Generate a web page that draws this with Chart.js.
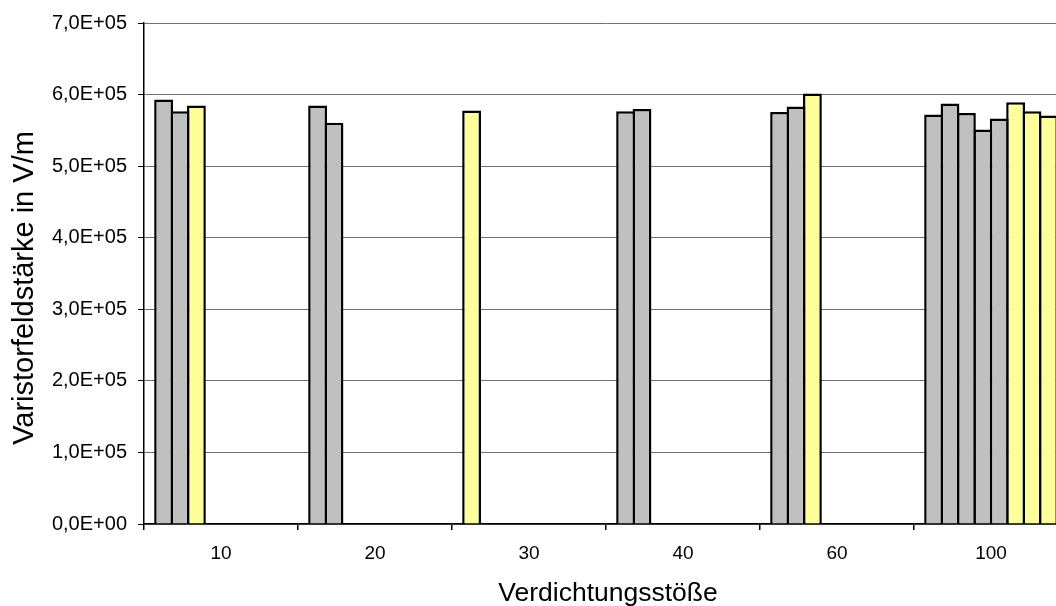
<!DOCTYPE html>
<html>
<head>
<meta charset="utf-8">
<script src="https://cdn.jsdelivr.net/npm/chart.js@4"></script>
<style>
  html, body { margin: 0; padding: 0; overflow: hidden; background: #fff; }
  #wrap { position: absolute; left: 0; top: 0; width: 1070px; height: 612px; }
</style>
</head>
<body>
<div id="wrap"><canvas id="myChart"></canvas></div>
<script>
// categories (Verdichtungsstöße) and measured field strengths per category
const categories = ['10', '20', '30', '40', '60', '100'];
const values10 = [5.931e5, 5.768e5, 5.847e5];
const values20 = [5.847e5, 5.605e5];
const values30 = [5.778e5];
const values40 = [5.768e5, 5.800e5];
const values60 = [5.758e5, 5.833e5, 6.014e5];
const values100 = [5.722e5, 5.875e5, 5.744e5, 5.513e5, 5.666e5, 5.893e5, 5.768e5, 5.708e5];
// which bars in each category are yellow
const yellowSlots = [[2], [], [0], [], [2], [5, 6, 7]];
const yTickLabels = ['0,0E+00', '1,0E+05', '2,0E+05', '3,0E+05', '4,0E+05', '5,0E+05', '6,0E+05', '7,0E+05'];

const grey = '#C0C0C0';
const yellow = '#FFFF99';
const font = "'Liberation Sans', Arial, sans-serif";

const groups = [values10, values20, values30, values40, values60, values100];
const slots = Math.max(...groups.map(g => g.length));
const datasets = [];
for (let s = 0; s < slots; s++) {
  datasets.push({
    data: groups.map(g => g[s] ?? null),
    backgroundColor: groups.map((g, i) => yellowSlots[i].includes(s) ? yellow : grey),
    borderColor: '#000',
    borderWidth: 2.5,
    borderSkipped: 'start',
    categoryPercentage: 0.852,
    barPercentage: 1.15
  });
}

// axis titles drawn at fixed spots like the original
const axisTitles = {
  id: 'axisTitles',
  afterDraw(chart) {
    const ctx = chart.ctx;
    ctx.save();
    ctx.fillStyle = '#000';
    ctx.textAlign = 'center';
    ctx.textBaseline = 'alphabetic';
    ctx.font = '26.5px ' + font;
    ctx.fillText('Verdichtungsstöße', 608, 601);
    ctx.translate(33, 288);
    ctx.rotate(-Math.PI / 2);
    ctx.font = '29px ' + font;
    ctx.fillText('Varistorfeldstärke in V/m', 0, 0);
    ctx.restore();
  }
};

new Chart('myChart', {
  type: 'bar',
  data: { labels: categories, datasets: datasets },
  plugins: [axisTitles],
  options: {
    responsive: true,
    maintainAspectRatio: false,
    animation: false,
    layout: { padding: { top: 21, left: 0, right: 2, bottom: 0 } },
    plugins: { legend: { display: false }, tooltip: { enabled: false } },
    scales: {
      x: {
        afterFit: scale => { scale.height = 88; },
        grid: { offset: true, drawOnChartArea: false, tickLength: 6, tickColor: '#000', lineWidth: 1.5 },
        border: { color: '#000', width: 1.5 },
        ticks: { color: '#000', padding: 12, font: { family: font, size: 19 } }
      },
      y: {
        min: 0,
        max: 7e5,
        afterFit: scale => { scale.width = 144; },
        grid: { color: '#707070', lineWidth: 1, tickLength: 6, tickColor: '#000' },
        border: { color: '#000', width: 1.5 },
        ticks: {
          stepSize: 1e5,
          color: '#000',
          padding: 11,
          font: { family: font, size: 20 },
          callback: value => yTickLabels[Math.round(value / 1e5)]
        }
      }
    }
  }
});
</script>
</body>
</html>
